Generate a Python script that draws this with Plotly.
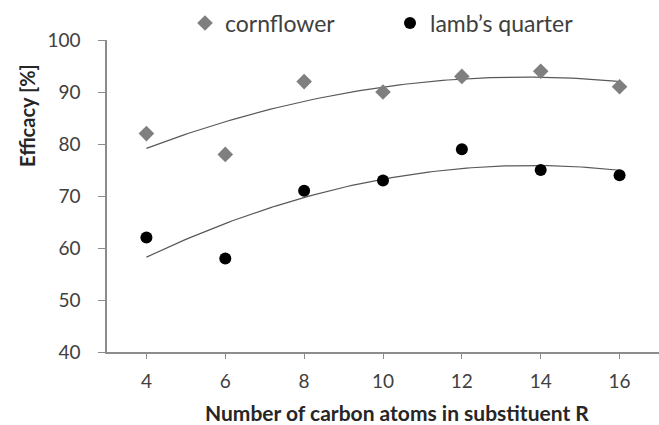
import numpy as np
import plotly.graph_objects as go

carbon_atoms = [4, 6, 8, 10, 12, 14, 16]
cornflower = [82, 78, 92, 90, 93, 94, 91]
lambs_quarter = [62, 58, 71, 73, 79, 75, 74]
x_ticks = [4, 6, 8, 10, 12, 14, 16]
y_ticks = [40, 50, 60, 70, 80, 90, 100]

FONT = "Lato"
W, H = 659, 425
ML, MR, MT, MB = 107, 0, 40, 73

fig = go.Figure()

xs = np.linspace(min(carbon_atoms), max(carbon_atoms), 100)
for vals in (cornflower, lambs_quarter):
    coef = np.polyfit(carbon_atoms, vals, 2)
    fig.add_trace(go.Scatter(x=xs, y=np.polyval(coef, xs), mode="lines",
                             line=dict(color="#595959", width=1.2),
                             showlegend=False, hoverinfo="skip"))

fig.add_trace(go.Scatter(x=carbon_atoms, y=cornflower, mode="markers", name="cornflower",
                         marker=dict(symbol="diamond", size=12, color="#7f7f7f")))
fig.add_trace(go.Scatter(x=carbon_atoms, y=lambs_quarter, mode="markers", name="lamb\u2019s quarter",
                         marker=dict(symbol="circle", size=12, color="#000000")))

pw, ph = W - ML - MR, H - MT - MB


def px_to_paper(xp, yp):
    return (xp - ML) / pw, (H - MB - yp) / ph


axis_color = "#8c8c8c"
lx, ly = px_to_paper(185, 23)
yt_x, yt_y = px_to_paper(27, 116)
xt_x, xt_y = px_to_paper(397, 412)

fig.update_layout(
    width=W, height=H,
    margin=dict(l=ML, r=MR, t=MT, b=MB, autoexpand=False),
    plot_bgcolor="white", paper_bgcolor="white",
    font=dict(family=FONT, color="#404040"),
    legend=dict(orientation="h", x=lx, xanchor="left", y=ly, yanchor="middle",
                font=dict(size=23, color="#404040"), entrywidth=160,
                bgcolor="rgba(0,0,0,0)"),
    xaxis=dict(range=[3, 17], tickvals=x_ticks, showline=True, linecolor=axis_color,
               linewidth=1.5, ticks="outside", ticklen=5, tickcolor=axis_color,
               showgrid=False, zeroline=False, tickfont=dict(size=19, color="#404040"),
               ticklabelstandoff=6),
    yaxis=dict(range=[40, 100], tickvals=y_ticks, showline=True, linecolor=axis_color,
               linewidth=1.5, ticks="outside", ticklen=7, tickcolor=axis_color,
               showgrid=False, zeroline=False, tickfont=dict(size=19, color="#404040"),
               ticklabelstandoff=14),
    annotations=[
        dict(text="<b>Efficacy [%]</b>", x=yt_x, y=yt_y, xref="paper", yref="paper",
             xanchor="center", yanchor="middle",
             showarrow=False, textangle=-90, font=dict(size=20, color="#262626")),
        dict(text="<b>Number of carbon atoms in substituent R</b>", x=xt_x, y=xt_y,
             xref="paper", yref="paper", xanchor="center", yanchor="middle",
             showarrow=False, font=dict(size=21, color="#262626")),
    ],
)

fig.write_html("out.html")
